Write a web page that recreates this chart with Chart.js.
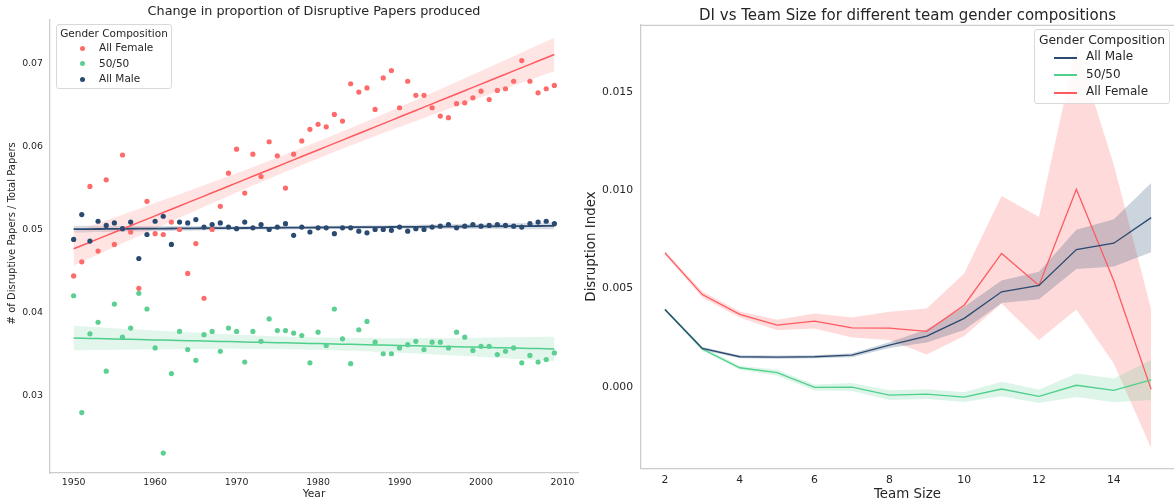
<!DOCTYPE html>
<html>
<head>
<meta charset="utf-8">
<script src="https://cdn.jsdelivr.net/npm/chart.js@4.4.1/dist/chart.umd.min.js"></script>
<style>
  html, body { margin:0; padding:0; background:#ffffff; }
  body { width:1174px; height:503px; position:relative; overflow:hidden; font-family:"DejaVu Sans", sans-serif; color:#262626; }
  .wrap { position:absolute; top:0; }
  .legend { position:absolute; background:rgba(255,255,255,0.85); border:1px solid #d9d9d9; border-radius:3px; box-sizing:border-box; }
  .legend .ttl { position:absolute; left:0; right:0; text-align:center; white-space:nowrap; }
  .legend .row { position:absolute; white-space:nowrap; }
  .dot { position:absolute; border-radius:50%; }
  .ln { position:absolute; height:0; border-top-width:1px; border-top-style:solid; border-bottom-width:0.5px; border-bottom-style:solid; }
</style>
</head>
<body>
<div class="wrap" style="left:0;width:590px;height:503px;"><canvas id="c1" width="590" height="503"></canvas></div>
<div class="wrap" style="left:580px;width:594px;height:503px;"><canvas id="c2" width="594" height="503"></canvas></div>

<div class="legend" id="lg1" style="left:56px;top:24px;width:116px;height:65px;font-size:10.5px;">
  <div class="ttl" style="top:1.5px;">Gender Composition</div>
  <div class="dot" style="left:23px;top:20.5px;width:5px;height:5px;background:#ff6b6b;"></div>
  <div class="row" style="left:42px;top:16px;">All Female</div>
  <div class="dot" style="left:23px;top:36px;width:5px;height:5px;background:#5ccf93;"></div>
  <div class="row" style="left:42px;top:31.5px;">50/50</div>
  <div class="dot" style="left:23px;top:51.5px;width:5px;height:5px;background:#2b4a70;"></div>
  <div class="row" style="left:42px;top:47px;">All Male</div>
</div>

<div class="legend" id="lg2" style="left:1034px;top:29px;width:136px;height:75px;font-size:12px;">
  <div class="ttl" style="top:2.5px;font-size:12.3px;">Gender Composition</div>
  <div class="ln" style="left:19px;top:27px;width:23px;border-color:#2b4a70;"></div>
  <div class="row" style="left:51px;top:19px;">All Male</div>
  <div class="ln" style="left:19px;top:44px;width:23px;border-color:#4fcf8c;"></div>
  <div class="row" style="left:51px;top:36.5px;">50/50</div>
  <div class="ln" style="left:19px;top:62px;width:23px;border-color:#ff5a5f;"></div>
  <div class="row" style="left:51px;top:54px;">All Female</div>
</div>

<script>
// ---------- Left chart data ----------
const years = [1950,1951,1952,1953,1954,1955,1956,1957,1958,1959,
               1960,1961,1962,1963,1964,1965,1966,1967,1968,1969,
               1970,1971,1972,1973,1974,1975,1976,1977,1978,1979,
               1980,1981,1982,1983,1984,1985,1986,1987,1988,1989,
               1990,1991,1992,1993,1994,1995,1996,1997,1998,1999,
               2000,2001,2002,2003,2004,2005,2006,2007,2008,2009];
const allFemaleProp = [0.0444,0.0461,0.0552,0.0474,0.0560,0.0482,0.0590,0.0497,0.0429,0.0534,
                       0.0495,0.0494,0.0509,0.0500,0.0447,0.0483,0.0417,0.0500,0.0528,0.0568,
                       0.0597,0.0544,0.0591,0.0564,0.0606,0.0589,0.0550,0.0591,0.0607,0.0621,
                       0.0627,0.0624,0.0639,0.0631,0.0676,0.0666,0.0671,0.0645,0.0683,0.0692,
                       0.0647,0.0679,0.0662,0.0662,0.0647,0.0637,0.0635,0.0652,0.0653,0.0659,
                       0.0667,0.0657,0.0668,0.0670,0.0679,0.0704,0.0679,0.0665,0.0670,0.0674];
const fiftyFiftyProp = [0.0420,0.0279,0.0374,0.0388,0.0329,0.0410,0.0370,0.0381,0.0423,0.0404,
                        0.0357,0.0230,0.0326,0.0377,0.0355,0.0342,0.0373,0.0377,0.0353,0.0381,
                        0.0377,0.0340,0.0377,0.0365,0.0392,0.0378,0.0378,0.0375,0.0372,0.0339,
                        0.0376,0.0360,0.0404,0.0368,0.0338,0.0379,0.0389,0.0364,0.0350,0.0350,
                        0.0357,0.0361,0.0365,0.0355,0.0364,0.0364,0.0357,0.0376,0.0370,0.0354,
                        0.0359,0.0359,0.0349,0.0353,0.0357,0.0339,0.0348,0.0340,0.0343,0.0351];
const allMaleProp = [0.0488,0.0518,0.0486,0.0510,0.0505,0.0508,0.0501,0.0509,0.0465,0.0494,
                     0.0510,0.0516,0.0482,0.0509,0.0508,0.0512,0.0503,0.0506,0.0508,0.0503,
                     0.0501,0.0509,0.0502,0.0506,0.0500,0.0503,0.0507,0.0493,0.0503,0.0497,
                     0.0502,0.0502,0.0495,0.0502,0.0502,0.0498,0.0496,0.0500,0.0500,0.0499,
                     0.0503,0.0498,0.0501,0.0500,0.0503,0.0504,0.0506,0.0502,0.0504,0.0506,
                     0.0504,0.0505,0.0506,0.0505,0.0504,0.0503,0.0507,0.0509,0.0510,0.0507];
const leftXTicks = [1950,1960,1970,1980,1990,2000,2010];
const leftYTicks = [0.03,0.04,0.05,0.06,0.07];

// ---------- Right chart data ----------
const teamSizes = [2,3,4,5,6,7,8,9,10,11,12,13,14,15];
const maleDI     = [0.00394,0.00196,0.00154,0.00152,0.00154,0.00162,0.00213,0.00259,0.00349,0.00484,0.00516,0.00699,0.00731,0.00861];
const maleLow    = [0.00388,0.00188,0.00146,0.00144,0.00146,0.00152,0.00198,0.00226,0.00290,0.00427,0.00446,0.00600,0.00612,0.00685];
const maleHigh   = [0.00400,0.00204,0.00162,0.00160,0.00162,0.00172,0.00228,0.00292,0.00408,0.00541,0.00586,0.00800,0.00853,0.01037];
const fiftyDI    = [0.00394,0.00193,0.00098,0.00073,-0.00002,0.00000,-0.00041,-0.00036,-0.00051,-0.00010,-0.00047,0.00009,-0.00017,0.00037];
const fiftyLow   = [0.00388,0.00183,0.00088,0.00058,-0.00017,-0.00020,-0.00066,-0.00061,-0.00076,-0.00047,-0.00081,-0.00051,-0.00077,-0.00066];
const fiftyHigh  = [0.00400,0.00203,0.00108,0.00088,0.00013,0.00020,-0.00016,-0.00011,-0.00026,0.00027,-0.00013,0.00069,0.00043,0.00137];
const femaleDI   = [0.00682,0.00470,0.00369,0.00315,0.00335,0.00301,0.00299,0.00283,0.00416,0.00679,0.00516,0.01005,0.00540,-0.00012];
const femaleLow  = [0.00672,0.00455,0.00354,0.00288,0.00298,0.00252,0.00239,0.00166,0.00259,0.00425,0.00239,0.00394,0.00120,-0.00311];
const femaleHigh = [0.00692,0.00485,0.00384,0.00342,0.00374,0.00354,0.00382,0.00399,0.00577,0.00971,0.00864,0.01736,0.01130,0.00394];
const rightXTicks = [2,4,6,8,10,12,14];
const rightYTicks = [0.000,0.005,0.010,0.015];

// ---------- Styles ----------
const RED = '#ff6b6b', GREEN = '#5ccf93', NAVY = '#2b4a70';
const RED_LINE = '#ff5a5f', GREEN_LINE = '#4fcf8c';
const TXT = '#262626', SPINE = '#cccccc';
const FONT = '"DejaVu Sans", sans-serif';

// Linear regression fit + 95% confidence band (computed from the data arrays)
function regress(xs, ys) {
  const n = xs.length;
  const mx = xs.reduce((a,b)=>a+b,0)/n, my = ys.reduce((a,b)=>a+b,0)/n;
  let sxx = 0, sxy = 0;
  for (let i=0;i<n;i++){ sxx += (xs[i]-mx)**2; sxy += (xs[i]-mx)*(ys[i]-my); }
  const b = sxy/sxx, a = my - b*mx;
  let sse = 0;
  for (let i=0;i<n;i++){ sse += (ys[i]-(a+b*xs[i]))**2; }
  const s = Math.sqrt(sse/(n-2)), t = 2.0;
  const fit = [], lo = [], hi = [];
  for (const x of xs) {
    const yh = a + b*x;
    const se = s*Math.sqrt(1/n + (x-mx)**2/sxx);
    fit.push({x, y: yh}); lo.push({x, y: yh - t*se}); hi.push({x, y: yh + t*se});
  }
  return {fit, lo, hi};
}
const pts = (xs, ys) => xs.map((x,i)=>({x, y: ys[i]}));

const regF = regress(years, allFemaleProp);
const regG = regress(years, fiftyFiftyProp);
const regM = regress(years, allMaleProp);

const topSpine = {
  id: 'topSpine',
  afterDraw(chart, args, opts) {
    if (!opts.show) return;
    const {ctx, chartArea} = chart;
    ctx.save(); ctx.strokeStyle = SPINE; ctx.lineWidth = 1.25;
    ctx.beginPath(); ctx.moveTo(chartArea.left, chartArea.top + 0.5); ctx.lineTo(chartArea.right, chartArea.top + 0.5); ctx.stroke();
    ctx.restore();
  }
};

function lineDs(data, color, width) {
  return { type:'line', data, borderColor: color, borderWidth: width, pointRadius: 0, fill: false, tension: 0 };
}
function bandDs(data, fillColor, target) {
  return { type:'line', data, borderWidth: 0, borderColor: 'rgba(0,0,0,0)', pointRadius: 0, tension: 0,
           backgroundColor: fillColor, fill: target === undefined ? false : {target} };
}

// ---------- Left chart ----------
new Chart(document.getElementById('c1'), {
  type: 'scatter',
  data: {
    datasets: [
      { label:'All Female', data: pts(years, allFemaleProp), backgroundColor: RED, borderWidth: 0, pointRadius: 2.6 },
      { label:'50/50', data: pts(years, fiftyFiftyProp), backgroundColor: GREEN, borderWidth: 0, pointRadius: 2.6 },
      { label:'All Male', data: pts(years, allMaleProp), backgroundColor: NAVY, borderWidth: 0, pointRadius: 2.6 },
      lineDs(regF.fit, RED_LINE, 1.5),
      lineDs(regG.fit, GREEN_LINE, 1.5),
      lineDs(regM.fit, NAVY, 1.8),
      bandDs(regF.hi, 'rgba(255,107,107,0.18)', 7),
      bandDs(regF.lo, 'rgba(0,0,0,0)'),
      bandDs(regG.hi, 'rgba(92,207,147,0.18)', 9),
      bandDs(regG.lo, 'rgba(0,0,0,0)'),
      bandDs(regM.hi, 'rgba(43,74,112,0.18)', 11),
      bandDs(regM.lo, 'rgba(0,0,0,0)')
    ]
  },
  options: {
    responsive: false, animation: false, devicePixelRatio: 1,
    layout: { padding: { left: 0, right: 12, top: 0, bottom: 0 } },
    plugins: {
      legend: { display: false },
      tooltip: { enabled: false },
      title: { display: true, text: 'Change in proportion of Disruptive Papers produced', fullSize: false,
               color: TXT, font: { family: FONT, size: 12.8, weight: 'normal', lineHeight: 1.2 },
               padding: { top: 3.8, bottom: 0 } },
      topSpine: { show: false }
    },
    scales: {
      x: { type: 'linear', min: 1947.1, max: 2011.9,
           afterBuildTicks: ax => { ax.ticks = leftXTicks.map(v => ({value: v})); },
           afterFit: s => { s.height = 30; },
           ticks: { color: TXT, font: { family: FONT, size: 9.4 }, padding: 4, callback: v => String(v) },
           grid: { display: false, drawTicks: false },
           border: { display: true, color: SPINE, width: 1.25 },
           title: { display: true, text: 'Year', color: TXT, font: { family: FONT, size: 10.7 }, padding: { top: 0, bottom: 2.6 } } },
      y: { type: 'linear', min: 0.0206, max: 0.0754,
           afterBuildTicks: ax => { ax.ticks = leftYTicks.map(v => ({value: v})); },
           afterFit: s => { s.width = 50; },
           ticks: { color: TXT, font: { family: FONT, size: 9.4 }, padding: 7, callback: v => v.toFixed(2) },
           grid: { display: false, drawTicks: false },
           border: { display: true, color: SPINE, width: 1.25 },
           title: { display: true, text: '        # of Disruptive Papers / Total Papers', color: TXT,
                    font: { family: FONT, size: 10 }, padding: { top: 6.7, bottom: 0 } } }
    }
  },
  plugins: [topSpine]
});

// ---------- Right chart ----------
new Chart(document.getElementById('c2'), {
  type: 'line',
  data: {
    datasets: [
      Object.assign(lineDs(pts(teamSizes, maleDI), NAVY, 1.3), { label: 'All Male' }),
      Object.assign(lineDs(pts(teamSizes, fiftyDI), GREEN_LINE, 1.3), { label: '50/50' }),
      Object.assign(lineDs(pts(teamSizes, femaleDI), RED_LINE, 1.3), { label: 'All Female' }),
      bandDs(pts(teamSizes, maleHigh), 'rgba(43,74,112,0.24)', 4),
      bandDs(pts(teamSizes, maleLow), 'rgba(0,0,0,0)'),
      bandDs(pts(teamSizes, fiftyHigh), 'rgba(79,207,140,0.2)', 6),
      bandDs(pts(teamSizes, fiftyLow), 'rgba(0,0,0,0)'),
      bandDs(pts(teamSizes, femaleHigh), 'rgba(255,107,107,0.25)', 8),
      bandDs(pts(teamSizes, femaleLow), 'rgba(0,0,0,0)')
    ]
  },
  options: {
    responsive: false, animation: false, devicePixelRatio: 1,
    layout: { padding: { left: 0, right: 0, top: 0, bottom: 0 } },
    plugins: {
      legend: { display: false },
      tooltip: { enabled: false },
      title: { display: true, text: 'DI vs Team Size for different team gender compositions', fullSize: false,
               color: TXT, font: { family: FONT, size: 15, weight: 'normal', lineHeight: 1.2 },
               padding: { top: 6.8, bottom: 0 } },
      topSpine: { show: true }
    },
    scales: {
      x: { type: 'linear', min: 1.36, max: 15.61,
           afterBuildTicks: ax => { ax.ticks = rightXTicks.map(v => ({value: v})); },
           afterFit: s => { s.height = 34.7; },
           ticks: { color: TXT, font: { family: FONT, size: 10.8 }, padding: 5, callback: v => String(v) },
           grid: { display: false, drawTicks: false },
           border: { display: true, color: SPINE, width: 1.25 },
           title: { display: true, text: 'Team Size', color: TXT, font: { family: FONT, size: 13.4 }, padding: { top: 0, bottom: 0 } } },
      y: { type: 'linear', min: -0.00413, max: 0.01841,
           afterBuildTicks: ax => { ax.ticks = rightYTicks.map(v => ({value: v})); },
           afterFit: s => { s.width = 61; },
           ticks: { color: TXT, font: { family: FONT, size: 10.8 }, padding: 8, callback: v => v.toFixed(3) },
           grid: { display: false, drawTicks: false },
           border: { display: true, color: SPINE, width: 1.25 },
           title: { display: true, text: 'Disruption Index', color: TXT, font: { family: FONT, size: 13.4 }, padding: { top: 3.3, bottom: 0 } } }
    }
  },
  plugins: [topSpine]
});
</script>
</body>
</html>
